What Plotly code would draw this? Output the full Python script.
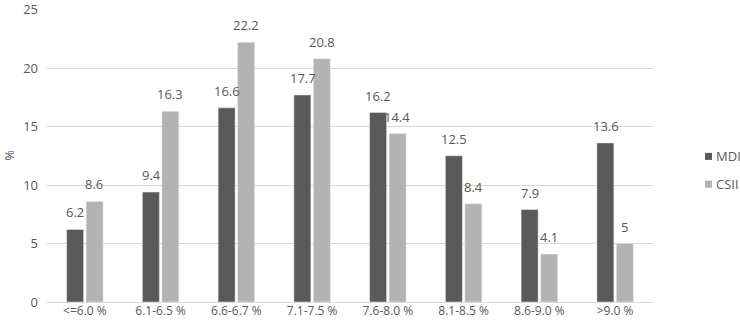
import plotly.graph_objects as go

categories = ["<=6.0 %", "6.1-6.5 %", "6.6-6.7 %", "7.1-7.5 %", "7.6-8.0 %", "8.1-8.5 %", "8.6-9.0 %", ">9.0 %"]
mdi = [6.2, 9.4, 16.6, 17.7, 16.2, 12.5, 7.9, 13.6]
csii = [8.6, 16.3, 22.2, 20.8, 14.4, 8.4, 4.1, 5]
mdi_labels = ["6.2", "9.4", "16.6", "17.7", "16.2", "12.5", "7.9", "13.6"]
csii_labels = ["8.6", "16.3", "22.2", "20.8", "14.4", "8.4", "4.1", "5"]
y_ticks = [0, 5, 10, 15, 20, 25]
series_names = ["MDI", "CSII"]
series_colors = ["#595959", "#b3b3b3"]

font_family = "Open Sans, DejaVu Sans, sans-serif"
txt_color = "#595959"

fig = go.Figure()
for name, vals, col in zip(series_names, [mdi, csii], series_colors):
    fig.add_trace(go.Bar(name=name, x=categories, y=vals, marker_color=col,
                         showlegend=False, hoverinfo="x+y"))

# value labels
for vals, labels, shift in [(mdi, mdi_labels, -9.6), (csii, csii_labels, 9.6)]:
    for c, v, t in zip(categories, vals, labels):
        fig.add_annotation(x=c, y=v, text=t, showarrow=False, xshift=shift,
                           yanchor="bottom", yshift=6,
                           font=dict(size=13, color=txt_color, family=font_family))

# legend (small square swatches + labels) at right side
legend_rows = [(0.485, 0.509), (0.39, 0.414)]
for name, col, (y0, y1) in zip(series_names, series_colors, legend_rows):
    fig.add_shape(type="rect", xref="paper", yref="paper", x0=1.0858, x1=1.0974,
                  y0=y0, y1=y1, fillcolor=col, line=dict(width=0))
    fig.add_annotation(xref="paper", yref="paper", x=1.1, y=(y0 + y1) / 2, text=name,
                       showarrow=False, xanchor="left", yanchor="middle",
                       font=dict(size=13, color=txt_color, family=font_family))

fig.update_layout(
    width=740, height=325,
    margin=dict(l=47, r=87, t=9, b=23, autoexpand=False),
    barmode="group", bargap=0.485, bargroupgap=0.13,
    plot_bgcolor="white", paper_bgcolor="white",
    font=dict(family=font_family, size=13, color=txt_color),
    showlegend=False,
)
fig.update_yaxes(range=[0, 25.05], tickvals=y_ticks, showgrid=True,
                 gridcolor="#d9d9d9", gridwidth=1,
                 zeroline=True, zerolinecolor="#d9d9d9", zerolinewidth=1,
                 ticks="", tickfont=dict(size=13, color=txt_color), ticklabelstandoff=8,
                 ticklabeloverflow="allow",
                 title=dict(text="%", font=dict(size=13, color=txt_color), standoff=14))
fig.update_xaxes(showline=False, ticks="", tickfont=dict(size=12, color=txt_color))

fig.write_html("out.html", config={"displayModeBar": False},
               post_script="document.body.style.margin='0';document.body.style.padding='0';")
